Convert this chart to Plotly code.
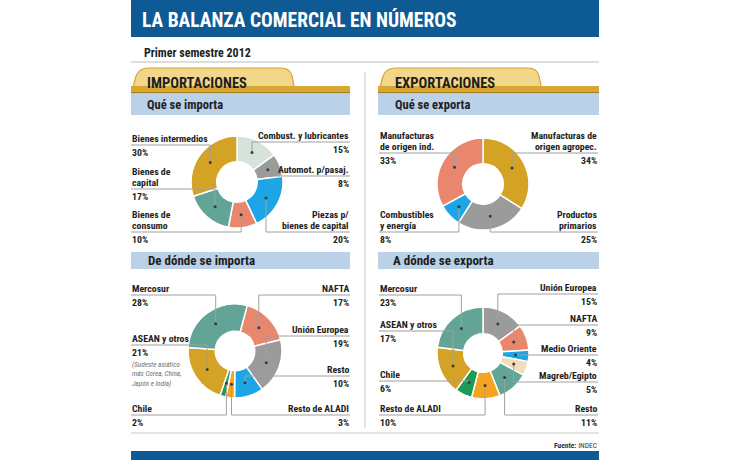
import math
import plotly.graph_objects as go

W, H = 730, 460

# ---------------- DATA ----------------
imp_que_cats = ["Combust. y lubricantes", "Automot. p/pasaj.", "Piezas p/ bienes de capital",
                "Bienes de consumo", "Bienes de capital", "Bienes intermedios"]
imp_que_vals = [15, 8, 20, 10, 17, 30]

exp_que_cats = ["Manufacturas de origen agropec.", "Productos primarios",
                "Combustibles y energía", "Manufacturas de origen ind."]
exp_que_vals = [34, 25, 8, 33]

imp_donde_cats = ["NAFTA", "Unión Europea", "Resto", "Resto de ALADI", "Chile",
                  "ASEAN y otros", "Mercosur"]
imp_donde_vals = [17, 19, 10, 3, 2, 21, 28]

exp_donde_cats = ["Unión Europea", "NAFTA", "Medio Oriente", "Magreb/Egipto", "Resto",
                  "Resto de ALADI", "Chile", "ASEAN y otros", "Mercosur"]
exp_donde_vals = [15, 9, 4, 5, 11, 10, 6, 17, 23]

# ---------------- STYLE / LAYOUT ----------------
FONT = "Roboto Condensed, Open Sans Condensed, DejaVu Sans Condensed, sans-serif"
TXT = "#1e1e1e"
GOLD = "#d4a325"
SALMON = "#e8866e"
GREY = "#9b9b9b"
BLUE = "#1ca6e6"
TEAL = "#62a597"
PALE = "#d5e3da"
GREEN = "#1a9c58"
ORANGE = "#f5a41f"
BEIGE = "#f1ddb8"
NAVY = "#0e5a95"
BAND = "#bad1e7"
LEAD = "#a0a0a0"
LBL = 9.8

imp_que_colors = [PALE, GREY, BLUE, SALMON, TEAL, GOLD]
exp_que_colors = [GOLD, GREY, BLUE, SALMON]
imp_donde_colors = [SALMON, GREY, BLUE, ORANGE, GREEN, GOLD, TEAL]
exp_donde_colors = [GREY, SALMON, BLUE, BEIGE, TEAL, ORANGE, GREEN, GOLD, TEAL]

# label layout: display text, side, leader y
imp_que_lab = [("Combust. y lubricantes", "R", 142), ("Automot. p/pasaj.", "R", 176),
               ("Piezas p/<br>bienes de capital", "R", 232), ("Bienes de<br>consumo", "L", 232),
               ("Bienes de<br>capital", "L", 189), ("Bienes intermedios", "L", 145)]
exp_que_lab = [("Manufacturas de<br>origen agropec.", "R", 153), ("Productos<br>primarios", "R", 232),
               ("Combustibles<br>y energía", "L", 232), ("Manufacturas<br>de origen ind.", "L", 153)]
imp_donde_lab = [("NAFTA", "R", 295), ("Unión Europea", "R", 336), ("Resto", "R", 376),
                 ("Resto de ALADI", "R", 415), ("Chile", "L", 415), ("ASEAN y otros", "L", 345),
                 ("Mercosur", "L", 295)]
exp_donde_lab = [("Unión Europea", "R", 294), ("NAFTA", "R", 325), ("Medio Oriente", "R", 355),
                 ("Magreb/Egipto", "R", 382), ("Resto", "R", 415), ("Resto de ALADI", "L", 415),
                 ("Chile", "L", 381), ("ASEAN y otros", "L", 331), ("Mercosur", "L", 295)]
asean_note = "(Sudeste asiático<br>más Corea, China,<br>Japón e India)"

fig = go.Figure()
shapes = []
annots = []


def ann(x, y, text, size=LBL, color=TXT, xanchor="left", yanchor="middle", bold=True, italic=False):
    t = text
    if bold:
        t = "<b>" + t + "</b>"
    if italic:
        t = "<i>" + t + "</i>"
    annots.append(dict(x=x, y=y, xref="x", yref="y", text=t, showarrow=False,
                       xanchor=xanchor, yanchor=yanchor, align=xanchor if xanchor != "center" else "center",
                       font=dict(family=FONT, size=size, color=color), borderpad=0))


def rect(x0, y0, x1, y1, fill, layer="below"):
    shapes.append(dict(type="rect", xref="x", yref="y", x0=x0, y0=y0, x1=x1, y1=y1,
                       fillcolor=fill, line=dict(width=0), layer=layer))


def hline(x0, x1, y, color="#c8c8c8", width=1):
    shapes.append(dict(type="line", xref="x", yref="y", x0=x0, x1=x1, y0=y, y1=y,
                       line=dict(color=color, width=width), layer="below"))


def donut(cats, vals, colors, labs, cx, cy, r, hole, rotation, left_x, right_x):
    fig.add_trace(go.Pie(labels=cats, values=vals, sort=False, direction="clockwise",
                         rotation=rotation, hole=hole, textinfo="none", showlegend=False,
                         hoverinfo="label+percent",
                         marker=dict(colors=colors, line=dict(color="white", width=1.5)),
                         domain=dict(x=[(cx - r) / W, (cx + r) / W],
                                     y=[1 - (cy + r) / H, 1 - (cy - r) / H])))
    total = float(sum(vals))
    cum = 0.0
    rm = r * (1 + hole) / 2
    for v, (disp, side, ly) in zip(vals, labs):
        mid = (cum + v / 2.0) / total
        cum += v
        th = math.radians(rotation + 360 * mid)
        dx = cx + rm * math.sin(th)
        dy = cy - rm * math.cos(th)
        x0 = left_x if side == "L" else right_x
        shapes.append(dict(type="path", xref="x", yref="y",
                           path=f"M {x0},{ly} L {dx:.1f},{ly} L {dx:.1f},{dy:.1f}",
                           line=dict(color=LEAD, width=1), layer="above"))
        shapes.append(dict(type="circle", xref="x", yref="y", x0=dx - 1.5, x1=dx + 1.5,
                           y0=dy - 1.5, y1=dy + 1.5, fillcolor="#3a3a3a",
                           line=dict(width=0), layer="above"))
        xa = "left" if side == "L" else "right"
        lines = disp.split("<br>")
        for i, t in enumerate(reversed(lines)):
            ann(x0, ly - 0.5 - i * 10.5, t, xanchor=xa, yanchor="bottom")
        ann(x0, ly + 0.5, f"{v}%", xanchor=xa, yanchor="top")


# ---- frame ----
rect(131, 0, 599, 37, NAVY)
ann(141, 19.5, "LA BALANZA COMERCIAL EN NÚMEROS", size=19.5, color="white")
ann(143, 53, "Primer semestre 2012", size=12)
hline(131, 599, 62, "#bdbdbd", 1)

for bx0, bx1, tx1 in [(131, 350, 293), (378, 599, 540)]:
    # tab
    shapes.append(dict(type="path", xref="x", yref="y", layer="below",
                       path=(f"M {bx0+1},91 L {bx0+5},76 Q {bx0+8},68 {bx0+18},68 "
                             f"L {tx1-12},68 Q {tx1-3},68 {tx1-1},76 L {tx1+2},91 Z"),
                       fillcolor="#f2d68a", line=dict(color="#d6a434", width=1.2)))
    rect(bx0, 86, bx1, 92, "#d8a632")
    rect(bx0, 92, bx1, 93.5, "#a98020")
    rect(bx0, 93.5, bx1, 115, BAND)
    rect(bx0, 252, bx1, 269, BAND)

ann(146, 83, "IMPORTACIONES", size=14.5)
ann(394, 83, "EXPORTACIONES", size=14.5)
ann(146, 104.5, "Qué se importa", size=12.5)
ann(394, 104.5, "Qué se exporta", size=12.5)
ann(147, 260.5, "De dónde se importa", size=13)
ann(392, 260.5, "A dónde se exporta", size=13)

shapes.append(dict(type="line", xref="x", yref="y", x0=365, x1=365, y0=72, y1=428,
                   line=dict(color="#c8c8c8", width=1), layer="below"))
hline(131, 599, 433, "#c8c8c8", 1)
rect(131, 451, 599, 460, NAVY)
annots.append(dict(x=598, y=445, xref="x", yref="y", showarrow=False, xanchor="right",
                   yanchor="middle", text="<b>Fuente:</b> INDEC", borderpad=0,
                   font=dict(family=FONT, size=7.5, color="#333")))

# ---- donuts ----
donut(imp_que_cats, imp_que_vals, imp_que_colors, imp_que_lab, 237, 182, 46, 0.44, 0, 131, 350)
donut(exp_que_cats, exp_que_vals, exp_que_colors, exp_que_lab, 483, 184, 46, 0.44, 0, 379, 598)
donut(imp_donde_cats, imp_donde_vals, imp_donde_colors, imp_donde_lab, 235, 351, 47, 0.42, 15, 131, 350)
donut(exp_donde_cats, exp_donde_vals, exp_donde_colors, exp_donde_lab, 483, 353, 46, 0.42, 0, 379, 598)

ann(131, 358.5, asean_note, size=7.2, color="#707070", bold=False, italic=True, yanchor="top")

fig.update_layout(
    width=W, height=H, margin=dict(l=0, r=0, t=0, b=0),
    paper_bgcolor="white", plot_bgcolor="white",
    xaxis=dict(range=[0, W], visible=False, fixedrange=True, domain=[0, 1]),
    yaxis=dict(range=[H, 0], visible=False, fixedrange=True, domain=[0, 1]),
    shapes=shapes, annotations=annots, showlegend=False,
)
fig.write_html("out.html")
